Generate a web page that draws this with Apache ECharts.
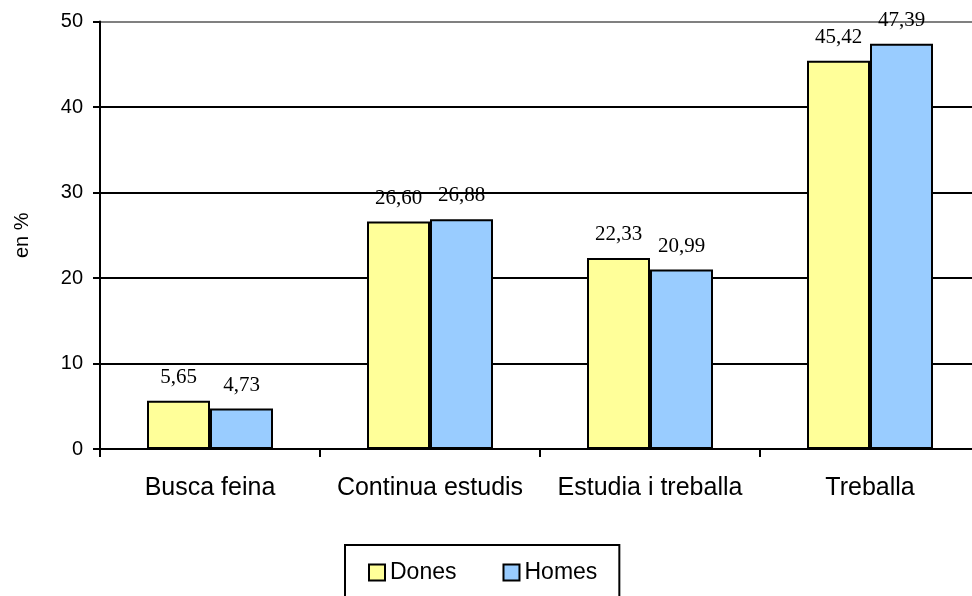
<!DOCTYPE html>
<html lang="ca">
<head>
    <meta charset="UTF-8">
    <title>Situació per sexe</title>
    <script src="https://cdn.jsdelivr.net/npm/echarts@6/dist/echarts.min.js"></script>
    <style>
        html, body { margin: 0; padding: 0; background: #fff; }
    </style>
</head>
<body>
<div id="main" style="width: 972px;height:596px;"></div>
<script type="text/javascript">
    // dades
    var categories = ['Busca feina', 'Continua estudis', 'Estudia i treballa', 'Treballa'];
    var dones = [5.65, 26.60, 22.33, 45.42];
    var homes = [4.73, 26.88, 20.99, 47.39];
    var yTicks = [0, 10, 20, 30, 40, 50];

    var sans = "'Liberation Sans', Arial, sans-serif";
    var serif = "'Liberation Serif', 'Times New Roman', serif";

    function fmt(p) {
        return p.value.toFixed(2).replace('.', ',');
    }

    var myChart = echarts.init(document.getElementById('main'));
    myChart.setOption({
        animation: false,
        backgroundColor: '#fff',
        grid: {
            left: 100,
            top: 21.5,
            width: 880,
            bottom: 147,
            outerBoundsMode: 'none',
            containLabel: false
        },
        legend: {
            data: ['Dones', 'Homes'],
            left: 345,
            top: 545,
            orient: 'horizontal',
            icon: 'rect',
            itemWidth: 16,
            itemHeight: 16,
            itemGap: 46,
            padding: [16, 22, 40, 23],
            borderColor: '#000',
            borderWidth: 2,
            itemStyle: {borderColor: '#000', borderWidth: 2},
            textStyle: {fontFamily: sans, fontSize: 23, color: '#000'}
        },
        xAxis: {
            type: 'category',
            data: categories,
            axisLine: {lineStyle: {color: '#000', width: 2}},
            axisTick: {show: true, length: 8, interval: 0, lineStyle: {color: '#000', width: 2}},
            axisLabel: {
                interval: 0,
                margin: 27,
                fontFamily: sans,
                fontSize: 25,
                color: '#000'
            },
            splitLine: {show: false}
        },
        yAxis: {
            type: 'value',
            min: yTicks[0],
            max: yTicks[yTicks.length - 1],
            interval: 10,
            name: 'en %',
            nameLocation: 'middle',
            nameGap: 68,
            nameRotate: 90,
            nameTextStyle: {fontFamily: sans, fontSize: 20, color: '#000'},
            axisLine: {show: true, lineStyle: {color: '#000', width: 2}},
            axisTick: {show: true, length: 7, lineStyle: {color: '#000', width: 2}},
            axisLabel: {
                margin: 17,
                fontFamily: sans,
                fontSize: 20,
                color: '#000'
            },
            splitLine: {
                show: true,
                lineStyle: {
                    color: ['#000', '#000', '#000', '#000', '#000', '#808080'],
                    width: 2
                }
            }
        },
        series: [
            {
                name: 'Dones',
                type: 'bar',
                data: dones,
                barWidth: 63,
                barGap: '0%',
                itemStyle: {color: '#FFFF99', borderColor: '#000', borderWidth: 2},
                label: {
                    show: true,
                    position: 'top',
                    distance: 13,
                    formatter: fmt,
                    fontFamily: serif,
                    fontSize: 21,
                    color: '#000'
                }
            },
            {
                name: 'Homes',
                type: 'bar',
                data: homes,
                barWidth: 63,
                itemStyle: {color: '#99CCFF', borderColor: '#000', borderWidth: 2},
                label: {
                    show: true,
                    position: 'top',
                    distance: 13,
                    formatter: fmt,
                    fontFamily: serif,
                    fontSize: 21,
                    color: '#000'
                }
            }
        ]
    });
</script>
</body>
</html>
